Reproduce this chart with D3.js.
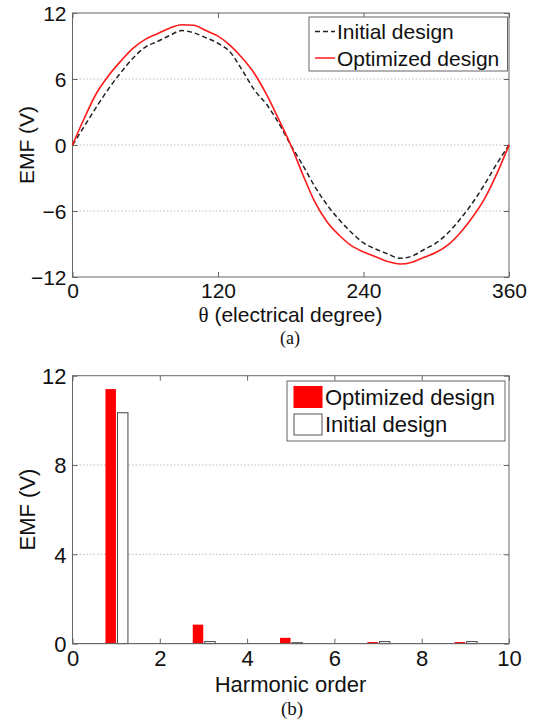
<!DOCTYPE html>
<html><head><meta charset="utf-8">
<script src="https://cdn.jsdelivr.net/npm/d3@7"></script>
<style>body{margin:0;background:#fff} svg{display:block}</style>
</head><body>
<svg id="c" width="542" height="724"></svg>
<script>
// ---- Data: (a) back-EMF waveforms ----
const theta = [0,10,20,30,40,50,60,70,80,90,100,110,120,130,140,150,160,170,180,190,200,210,220,230,240,250,260,270,280,290,300,310,320,330,340,350,360];
const optimizedEMF = [0,2.5,4.75,6.35,7.65,8.8,9.6,10.12,10.62,10.93,10.88,10.4,9.9,9.05,7.9,6.5,4.6,2.35,0,-2.7,-5.2,-7.0,-8.2,-9.15,-9.72,-10.15,-10.6,-10.82,-10.65,-10.2,-9.75,-9.05,-7.95,-6.55,-4.85,-2.6,0];
const initialEMF = [0,1.75,3.5,5.15,6.6,7.9,8.9,9.4,9.95,10.4,10.2,9.75,9.25,8.45,6.8,5.0,3.7,2.0,0,-1.85,-3.8,-5.45,-6.8,-7.95,-8.9,-9.45,-9.9,-10.3,-10.1,-9.5,-8.9,-7.95,-6.7,-5.25,-3.55,-1.7,0];
const topXTicks = [0,120,240,360];
const topYTicks = [-12,-6,0,6,12];
const topLegend = ["Initial design","Optimized design"];

// ---- Data: (b) harmonic spectrum ----
const harmonics = [1,3,5,7,9];
const optimizedHarm = [11.4,0.85,0.26,0.07,0.07];
const initialHarm = [10.34,0.09,0.04,0.09,0.09];
const botXTicks = [0,2,4,6,8,10];
const botYTicks = [0,4,8,12];
const botLegend = ["Optimized design","Initial design"];

const svg = d3.select("#c");
const SANS = "'Liberation Sans', Arial, sans-serif";
const SERIF = "'Liberation Serif', 'Times New Roman', serif";
const AXC = "#666", TXT = "#111", RED = "#ff1a1a";

function frame(g, x, y, xTicks, yTicks, fs, gridVals, pad) {
  const [x0,x1] = x.range(), [y1,y0] = y.range();
  g.selectAll(".grid").data(gridVals).join("line")
    .attr("x1",x0).attr("x2",x1).attr("y1",d=>y(d)).attr("y2",d=>y(d))
    .attr("stroke","#bbb").attr("stroke-width",1).attr("stroke-dasharray","1.5,2");
  const ax = g.append("g").attr("transform",`translate(0,${y1})`)
    .call(d3.axisBottom(x).tickValues(xTicks).tickSize(-5).tickPadding(pad).tickFormat(d3.format("d")));
  const axT = g.append("g").attr("transform",`translate(0,${y0})`)
    .call(d3.axisTop(x).tickValues(xTicks).tickSize(-5).tickFormat(""));
  const ay = g.append("g").attr("transform",`translate(${x0},0)`)
    .call(d3.axisLeft(y).tickValues(yTicks).tickSize(-5).tickPadding(6).tickFormat(d3.format("d")));
  const ayR = g.append("g").attr("transform",`translate(${x1},0)`)
    .call(d3.axisRight(y).tickValues(yTicks).tickSize(-5).tickFormat(""));
  [ax,axT,ay,ayR].forEach(a=>{
    a.select(".domain").remove();
    a.selectAll(".tick line").attr("stroke",AXC);
    a.selectAll("text").attr("font-family",SANS).attr("font-size",fs).attr("fill",TXT);
  });
  ay.selectAll("text").attr("dy","0.36em");
  g.append("rect").attr("x",x0).attr("y",y0).attr("width",x1-x0).attr("height",y1-y0)
    .attr("fill","none").attr("stroke",AXC).attr("stroke-width",1);
}

// ================= (a) =================
{
  const x = d3.scaleLinear().domain([0,360]).range([72.5,509]);
  const y = d3.scaleLinear().domain([-12,12]).range([277,13]);
  const g = svg.append("g");
  frame(g, x, y, topXTicks, topYTicks, 21, [-6,0,6], 6);
  const line = d3.line().x((d,i)=>x(theta[i])).y(d=>y(d)).curve(d3.curveMonotoneX);
  g.append("path").attr("d",line(initialEMF)).attr("fill","none")
    .attr("stroke","#222").attr("stroke-width",1.5).attr("stroke-dasharray","5,3");
  g.append("path").attr("d",line(optimizedEMF)).attr("fill","none")
    .attr("stroke",RED).attr("stroke-width",1.6);
  const lg = g.append("g");
  lg.append("rect").attr("x",309).attr("y",17).attr("width",198.5).attr("height",54)
    .attr("fill","#fff").attr("stroke",AXC);
  const styles = [{s:"#222",da:"5,3"},{s:RED,da:null}];
  topLegend.forEach((t,i)=>{
    const cy = 31.5 + i*26.5;
    lg.append("line").attr("x1",315).attr("x2",335).attr("y1",cy).attr("y2",cy)
      .attr("stroke",styles[i].s).attr("stroke-width",1.5).attr("stroke-dasharray",styles[i].da);
    lg.append("text").attr("x",337).attr("y",cy).attr("dy","0.36em")
      .attr("font-family",SANS).attr("font-size",21).attr("fill",TXT).text(t);
  });
  g.append("text").attr("transform","translate(26,145) rotate(-90)")
    .attr("text-anchor","middle").attr("dy","0.36em")
    .attr("font-family",SANS).attr("font-size",21).attr("fill",TXT).text("EMF (V)");
  const xl = g.append("text").attr("x",290.5).attr("y",314).attr("dy","0.36em")
    .attr("text-anchor","middle").attr("font-family",SANS).attr("font-size",21).attr("fill",TXT);
  xl.append("tspan").attr("font-family",SERIF).text("θ");
  xl.append("tspan").text(" (electrical degree)");
  g.append("text").attr("x",290).attr("y",338).attr("dy","0.36em").attr("text-anchor","middle")
    .attr("font-family",SERIF).attr("font-size",18).attr("fill",TXT).text("(a)");
}

// ================= (b) =================
{
  const x = d3.scaleLinear().domain([0,10]).range([72.5,509]);
  const y = d3.scaleLinear().domain([0,12]).range([643.6,375.7]);
  const g = svg.append("g");
  frame(g, x, y, botXTicks, botYTicks, 22, [4,8], 7);
  const bw = 0.24;
  g.selectAll(".bo").data(harmonics).join("rect")
    .attr("x",(d)=>x(d-0.245)).attr("width",x(bw)-x(0))
    .attr("y",(d,i)=>y(optimizedHarm[i])).attr("height",(d,i)=>y(0)-y(optimizedHarm[i]))
    .attr("fill","#ff0000");
  g.selectAll(".bi").data(harmonics).join("rect")
    .attr("x",(d)=>x(d+0.03)).attr("width",x(bw)-x(0))
    .attr("y",(d,i)=>y(initialHarm[i])).attr("height",(d,i)=>y(0)-y(initialHarm[i]))
    .attr("fill","#fff").attr("stroke","#444").attr("stroke-width",1);
  g.append("line").attr("x1",x(0)).attr("x2",x(10)).attr("y1",y(0)).attr("y2",y(0)).attr("stroke",AXC);
  const lg = g.append("g");
  lg.append("rect").attr("x",287).attr("y",381).attr("width",218).attr("height",60)
    .attr("fill","#fff").attr("stroke",AXC);
  const fills = [{f:"#ff0000",s:"#ff0000"},{f:"#fff",s:"#555"}];
  botLegend.forEach((t,i)=>{
    const cy = 397 + i*27.5;
    lg.append("rect").attr("x",294).attr("y",cy-10.5).attr("width",28).attr("height",21)
      .attr("fill",fills[i].f).attr("stroke",fills[i].s);
    lg.append("text").attr("x",325).attr("y",cy).attr("dy","0.36em")
      .attr("font-family",SANS).attr("font-size",22).attr("fill",TXT).text(t);
  });
  g.append("text").attr("transform","translate(27,509.5) rotate(-90)")
    .attr("text-anchor","middle").attr("dy","0.36em")
    .attr("font-family",SANS).attr("font-size",22).attr("fill",TXT).text("EMF (V)");
  g.append("text").attr("x",290.5).attr("y",684).attr("dy","0.36em").attr("text-anchor","middle")
    .attr("font-family",SANS).attr("font-size",22).attr("fill",TXT).text("Harmonic order");
  g.append("text").attr("x",292).attr("y",708).attr("dy","0.36em").attr("text-anchor","middle")
    .attr("font-family",SERIF).attr("font-size",19).attr("fill",TXT).text("(b)");
}
</script>
</body></html>
